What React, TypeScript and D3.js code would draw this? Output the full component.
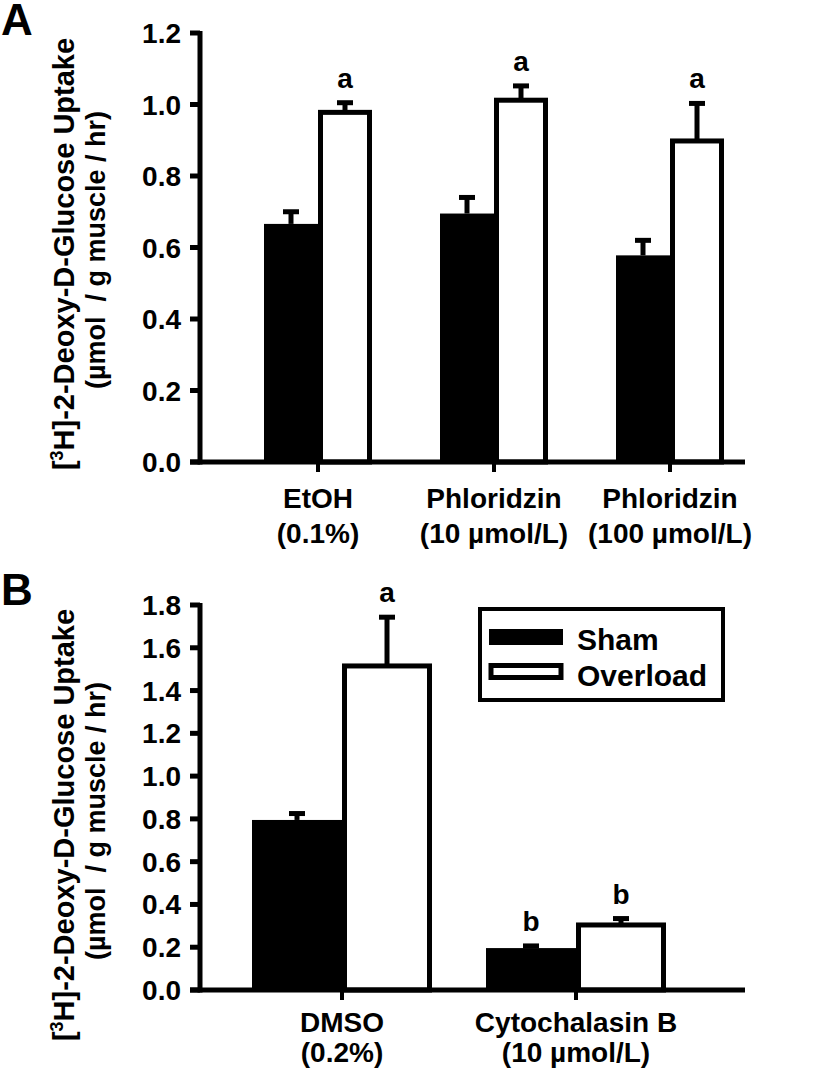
import React from "react";
import * as d3 from "d3";

// ---------- Data ----------
const catsA1 = ["EtOH", "Phloridzin", "Phloridzin"];
const catsA2 = ["(0.1%)", "(10 \u00b5mol/L)", "(100 \u00b5mol/L)"];
const shamA = [0.666, 0.695, 0.578];
const shamErrA = [0.034, 0.045, 0.042];
const overA = [0.978, 1.012, 0.898];
const overErrA = [0.027, 0.04, 0.105];
const sigShamA = ["", "", ""];
const sigOverA = ["a", "a", "a"];
const ticksA = [0, 0.2, 0.4, 0.6, 0.8, 1.0, 1.2];

const catsB1 = ["DMSO", "Cytochalasin B"];
const catsB2 = ["(0.2%)", "(10 \u00b5mol/L)"];
const shamB = [0.795, 0.196];
const shamErrB = [0.03, 0.01];
const overB = [1.515, 0.304];
const overErrB = [0.228, 0.03];
const sigShamB = ["", "b"];
const sigOverB = ["a", "b"];
const ticksB = [0, 0.2, 0.4, 0.6, 0.8, 1.0, 1.2, 1.4, 1.6, 1.8];

const legendLabels = ["Sham", "Overload"];

const FONT = "'Liberation Sans', Arial, Helvetica, sans-serif";

type PanelProps = {
  letter: string;
  letterY: number;
  cats1: string[];
  cats2: string[];
  sham: number[];
  shamErr: number[];
  over: number[];
  overErr: number[];
  sigSham: string[];
  sigOver: string[];
  ticks: number[];
  yMax: number;
  yTop: number;
  yBottom: number;
  xLeft: number;
  xRight: number;
  pointRange: [number, number];
  barW: number;
  capW: number;
  catY1: number;
  catY2: number;
  labelCenterY: number;
  legend?: boolean;
};

function Panel(p: PanelProps) {
  const y = d3.scaleLinear().domain([0, p.yMax]).range([p.yBottom, p.yTop]);
  const x = d3.scalePoint<number>().domain(p.cats1.map((_, i) => i)).range(p.pointRange);
  const sw = 5;
  const fmt = d3.format(".1f");
  return (
    <g>
      <text x={1} y={p.letterY} fontSize={44} fontWeight="bold" fontFamily={FONT}>
        {p.letter}
      </text>
      {/* y label */}
      <text
        transform={`translate(74,${p.labelCenterY}) rotate(-90)`}
        textAnchor="middle"
        fontSize={29}
        fontWeight="bold"
        fontFamily={FONT}
      >
        [<tspan fontSize={18} dy={-11}>3</tspan>
        <tspan dy={11}>H]-2-Deoxy-D-Glucose Uptake</tspan>
      </text>
      <text
        transform={`translate(105,${p.labelCenterY - 4}) rotate(-90)`}
        textAnchor="middle"
        fontSize={27}
        fontWeight="bold"
        fontFamily={FONT}
        style={{ whiteSpace: "pre" }}
      >
        {"(\u00b5mol  / g muscle / hr)"}
      </text>
      {/* bars */}
      {p.sham.map((v, i) => {
        const cx = x(i)!;
        return (
          <g key={"s" + i}>
            <rect x={cx - p.barW} y={y(v)} width={p.barW} height={y(0) - y(v)} fill="#000" />
          </g>
        );
      })}
      {p.over.map((v, i) => {
        const cx = x(i)!;
        return (
          <rect
            key={"o" + i}
            x={cx + sw / 2}
            y={y(v)}
            width={p.barW - sw}
            height={y(0) - y(v)}
            fill="#fff"
            stroke="#000"
            strokeWidth={sw}
          />
        );
      })}
      {/* error bars */}
      {p.sham.map((v, i) => {
        const cx = x(i)! - p.barW / 2;
        const t = y(v + p.shamErr[i]);
        return (
          <g key={"se" + i}>
            <line x1={cx} x2={cx} y1={y(v)} y2={t} stroke="#000" strokeWidth={5} />
            <line x1={cx - p.capW / 2} x2={cx + p.capW / 2} y1={t} y2={t} stroke="#000" strokeWidth={5} />
            {p.sigSham[i] && (
              <text x={cx} y={t - 15} textAnchor="middle" fontSize={28} fontWeight="bold" fontFamily={FONT}>
                {p.sigSham[i]}
              </text>
            )}
          </g>
        );
      })}
      {p.over.map((v, i) => {
        const cx = x(i)! + p.barW / 2;
        const t = y(v + p.overErr[i]);
        return (
          <g key={"oe" + i}>
            <line x1={cx} x2={cx} y1={y(v)} y2={t} stroke="#000" strokeWidth={5} />
            <line x1={cx - p.capW / 2} x2={cx + p.capW / 2} y1={t} y2={t} stroke="#000" strokeWidth={5} />
            {p.sigOver[i] && (
              <text x={cx} y={t - 15} textAnchor="middle" fontSize={28} fontWeight="bold" fontFamily={FONT}>
                {p.sigOver[i]}
              </text>
            )}
          </g>
        );
      })}
      {/* y axis */}
      <line x1={p.xLeft} x2={p.xLeft} y1={p.yTop - 2} y2={p.yBottom + 2.5} stroke="#000" strokeWidth={5} />
      {p.ticks.map((t) => (
        <g key={"t" + t}>
          <line x1={p.xLeft - 10} x2={p.xLeft} y1={y(t)} y2={y(t)} stroke="#000" strokeWidth={5} />
          <text
            x={p.xLeft - 19}
            y={y(t) + 10}
            textAnchor="end"
            fontSize={28}
            fontWeight="bold"
            fontFamily={FONT}
          >
            {fmt(t)}
          </text>
        </g>
      ))}
      {/* x axis */}
      <line x1={p.xLeft - 10} x2={p.xRight} y1={y(0)} y2={y(0)} stroke="#000" strokeWidth={5} />
      {p.cats1.map((c, i) => (
        <g key={"c" + i}>
          <line x1={x(i)!} x2={x(i)!} y1={y(0)} y2={y(0) + 10} stroke="#000" strokeWidth={4} />
          <text x={x(i)!} y={p.catY1} textAnchor="middle" fontSize={28} fontWeight="bold" fontFamily={FONT}>
            {c}
          </text>
          <text x={x(i)!} y={p.catY2} textAnchor="middle" fontSize={28} fontWeight="bold" fontFamily={FONT}>
            {p.cats2[i]}
          </text>
        </g>
      ))}
      {p.legend && (
        <g>
          <rect x={480} y={609} width={243} height={91} fill="#fff" stroke="#000" strokeWidth={4} />
          <rect x={489} y={629} width={74} height={16} fill="#000" />
          <rect x={491} y={665.5} width={70} height={12} fill="#fff" stroke="#000" strokeWidth={5} />
          <text x={577} y={650} fontSize={30} fontWeight="bold" fontFamily={FONT}>
            {legendLabels[0]}
          </text>
          <text x={577} y={686} fontSize={30} fontWeight="bold" fontFamily={FONT}>
            {legendLabels[1]}
          </text>
        </g>
      )}
    </g>
  );
}

export default function App() {
  return (
    <svg
      width={819}
      height={1071}
      style={{ position: "absolute", left: 0, top: 0, background: "#fff" }}
    >
      <rect width={819} height={1071} fill="#fff" />
      <Panel
        letter="A"
        letterY={35}
        cats1={catsA1}
        cats2={catsA2}
        sham={shamA}
        shamErr={shamErrA}
        over={overA}
        overErr={overErrA}
        sigSham={sigShamA}
        sigOver={sigOverA}
        ticks={ticksA}
        yMax={1.2}
        yTop={33}
        yBottom={462}
        xLeft={200}
        xRight={745}
        pointRange={[318, 670]}
        barW={54}
        capW={16}
        catY1={508}
        catY2={543}
        labelCenterY={254}
      />
      <Panel
        letter="B"
        letterY={605}
        cats1={catsB1}
        cats2={catsB2}
        sham={shamB}
        shamErr={shamErrB}
        over={overB}
        overErr={overErrB}
        sigSham={sigShamB}
        sigOver={sigOverB}
        ticks={ticksB}
        yMax={1.8}
        yTop={605}
        yBottom={990}
        xLeft={200}
        xRight={745}
        pointRange={[342, 576]}
        barW={90}
        capW={16}
        catY1={1032}
        catY2={1062}
        labelCenterY={825}
        legend
      />
    </svg>
  );
}
